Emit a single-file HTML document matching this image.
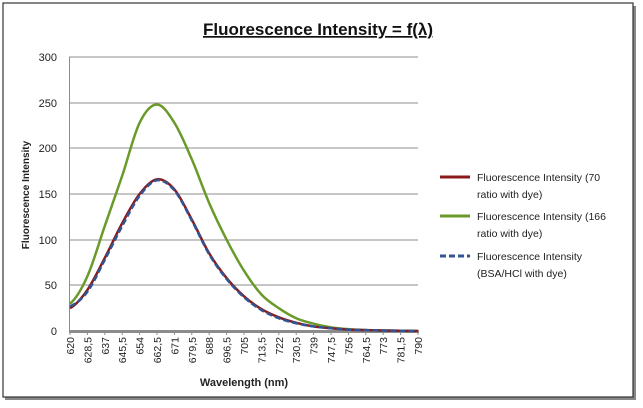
<!DOCTYPE html>
<html><head><style>
body{margin:0;background:#fff;}
svg{display:block;font-family:"Liberation Sans",sans-serif;}
</style></head><body>
<svg id="s" width="643" height="408" xmlns="http://www.w3.org/2000/svg">
<rect x="0" y="0" width="643" height="408" fill="#fff"/>
<rect x="5" y="6" width="631" height="394" fill="#888"/>
<rect x="3" y="3" width="630" height="394" fill="#fff" stroke="#333" stroke-width="1.2"/>
<text x="318" y="35" font-size="17" font-weight="bold" text-anchor="middle" text-decoration="underline" fill="#111">Fluorescence Intensity = f(λ)</text>
<g stroke="#8c8c8c" stroke-width="1">
<line x1="69" x2="418" y1="57" y2="57"/><line x1="69" x2="418" y1="103" y2="103"/>
<line x1="69" x2="418" y1="148" y2="148"/><line x1="69" x2="418" y1="194" y2="194"/>
<line x1="69" x2="418" y1="240" y2="240"/><line x1="69" x2="418" y1="285" y2="285"/>
<line x1="69.5" x2="69.5" y1="57" y2="333"/>
</g>
<line x1="69" x2="419" y1="331.5" y2="331.5" stroke="#8c8c8c" stroke-width="3"/>
<g font-size="11" fill="#222" text-anchor="end">
<text x="57" y="61">300</text><text x="57" y="107">250</text><text x="57" y="152">200</text>
<text x="57" y="198">150</text><text x="57" y="244">100</text><text x="57" y="289">50</text><text x="57" y="335">0</text>
</g>
<text transform="translate(29,195) rotate(-90)" font-size="10" font-weight="bold" text-anchor="middle" fill="#222">Fluorescence Intensity</text>
<text x="244" y="386" font-size="11" font-weight="bold" text-anchor="middle" fill="#222">Wavelength (nm)</text>
<g id="ticks" font-size="10.5" fill="#222"></g>
<g id="curves" fill="none"></g>
<line x1="440" x2="470" y1="177" y2="177" stroke="#8b1a1a" stroke-width="3"/>
<line x1="440" x2="470" y1="216" y2="216" stroke="#6a9a2a" stroke-width="3"/>
<line x1="440" x2="470" y1="256" y2="256" stroke="#2f5597" stroke-width="3" stroke-dasharray="6,3"/>
<g font-size="10.5" fill="#222">
<text x="477" y="181">Fluorescence Intensity (70</text><text x="477" y="198">ratio with dye)</text>
<text x="477" y="220">Fluorescence Intensity (166</text><text x="477" y="237">ratio with dye)</text>
<text x="477" y="260">Fluorescence Intensity</text><text x="477" y="277">(BSA/HCl with dye)</text>
</g>
</svg>
<script>
var NS="http://www.w3.org/2000/svg";
var labels=["620","628,5","637","645,5","654","662,5","671","679,5","688","696,5","705","713,5","722","730,5","739","747,5","756","764,5","773","781,5","790"];
var tg=document.getElementById("ticks");
function X(i){return 70+i*17.4;}
function Y(v){return 331-v*0.9133;}
labels.forEach(function(l,i){
 var t=document.createElementNS(NS,"text");
 t.setAttribute("transform","translate("+(X(i)+4)+",337) rotate(-90)");
 t.setAttribute("text-anchor","end");t.textContent=l;tg.appendChild(t);
 var k=document.createElementNS(NS,"line");
 k.setAttribute("x1",X(i));k.setAttribute("x2",X(i));k.setAttribute("y1",331);k.setAttribute("y2",335);
 k.setAttribute("stroke","#8c8c8c");tg.appendChild(k);
});
var red=[25,45,80,118,150,166,155,122,85,58,38,24,15,9,5,3,1.5,1,0.5,0.3,0];
var blue=[27,43,78,115,148,165,154,121,84,57,37,23,14,8.5,5,3,1.5,1,0.5,0.3,0];
var green=[30,60,115,170,228,248,228,188,140,100,66,40,25,14,8,4,2,1,0.5,0.3,0];
function path(d){
 var s="M"+X(0)+","+Y(d[0]);
 for(var i=0;i<d.length-1;i++){
  var p0=d[Math.max(i-1,0)],p1=d[i],p2=d[i+1],p3=d[Math.min(i+2,d.length-1)];
  var x1=X(i),x2=X(i+1);
  s+=" C"+(x1+17.4/3)+","+Y(p1+(p2-p0)/6)+" "+(x2-17.4/3)+","+Y(p2-(p3-p1)/6)+" "+x2+","+Y(p2);
 }
 return s;
}
var cg=document.getElementById("curves");
[[green,"#6a9a2a",""],[red,"#8b1a1a",""],[blue,"#2f5597","6,3"]].forEach(function(c){
 var p=document.createElementNS(NS,"path");
 p.setAttribute("d",path(c[0]));p.setAttribute("stroke",c[1]);p.setAttribute("stroke-width","2.5");
 if(c[2])p.setAttribute("stroke-dasharray",c[2]);cg.appendChild(p);
});
</script>
</body></html>
